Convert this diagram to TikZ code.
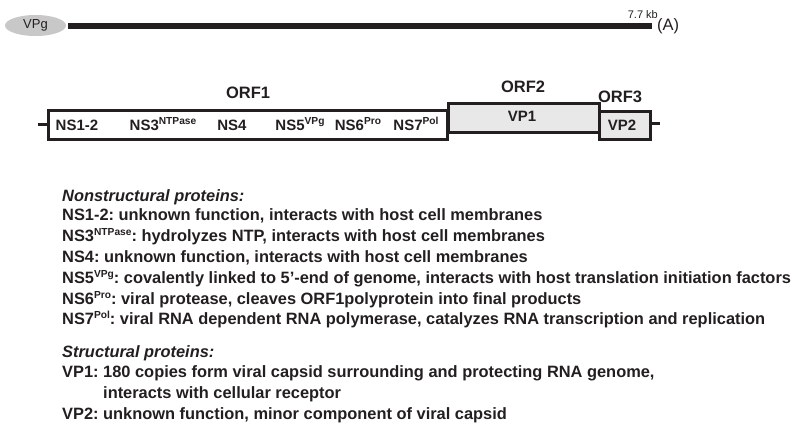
\documentclass[tikz,border=0pt]{standalone}
\usepackage{fontspec}
\setmainfont{Liberation Sans}
\usepackage{xcolor}
\usetikzlibrary{positioning,shapes.geometric}

\definecolor{ink}{HTML}{231F20}
\definecolor{capgray}{HTML}{C8C8C8}
\definecolor{boxgray}{HTML}{E8E8E8}

% small raised tag after a protein name
\newcommand{\psup}[1]{\raisebox{0.36em}{\fontsize{10.2}{12}\selectfont #1}}
\frenchspacing

\tikzset{
  orfbox/.style={draw=ink, line width=3pt, inner sep=0pt, anchor=north west},
  orflabel/.style={font=\fontsize{16.5}{19}\selectfont\bfseries, text=ink, inner sep=0pt},
  protlabel/.style={font=\fontsize{15}{18}\selectfont\bfseries, text=ink, inner sep=0pt},
  descline/.style={font=\fontsize{16.4}{20}\selectfont\bfseries, text=ink, inner sep=0pt, anchor=base west},
}

\begin{document}
\begin{tikzpicture}[x=1pt,y=-1pt]
\useasboundingbox (0,0) rectangle (800,429);

% genome with VPg and poly(A)
\node [ellipse, fill=capgray, minimum width=61pt, minimum height=21pt, inner sep=0pt, font=\fontsize{13}{15}\selectfont, text=ink] (vpg) at (35.5,25.5) {VPg};
\coordinate (g3) at (652,25.5);
\draw [ink, line width=6pt] ([xshift=2pt]vpg.east) -- (g3);
\node [anchor=west, inner sep=0pt, font=\fontsize{16.5}{18}\selectfont, text=ink] (polya) at (657,26) {(A)};
\node [anchor=base east, inner sep=0pt, font=\fontsize{11}{13}\selectfont, text=ink] (size) at (658,18) {7.7 kb};

% ORFs
\node [orfbox, minimum width=399pt, minimum height=29pt] (orf1) at (46.5,108.5) {};
\node [orfbox, fill=boxgray, minimum width=151.5pt, minimum height=29pt] (orf2) at (446.5,101.5) {};
\node [orfbox, fill=boxgray, minimum width=51pt, minimum height=28pt] (orf3) at (597.5,109.5) {};
\coordinate [left=9pt of orf1.west] (stub5);
\coordinate (stub3) at (660,123);
\draw [ink, line width=3pt] (stub5) -- (orf1.west);
\draw [ink, line width=3pt] (orf3.east |- stub3) -- (stub3);

\node [orflabel] (orf1name) at (248,93) {ORF1};
\node [orflabel] (orf2name) at (523,87) {ORF2};
\node [orflabel] (orf3name) at (620,97) {ORF3};

% proteins
\node [protlabel] (ns12) at (77,125) {NS1-2};
\node [protlabel] (ns3) at (163,124) {NS3\psup{NTPase}};
\node [protlabel] (ns4) at (232,125) {NS4};
\node [protlabel] (ns5) at (300,124) {NS5\psup{VPg}};
\node [protlabel] (ns6) at (358,124) {NS6\psup{Pro}};
\node [protlabel] (ns7) at (416,124) {NS7\psup{Pol}};
\node [protlabel] (vp1) at (522,116) {VP1};
\node [protlabel] (vp2) at (622,125) {VP2};

% legend
\node [descline] (nshead) at (62,201) {\itshape Nonstructural proteins:};
\node [descline] (d1) at (62,220) {NS1-2: unknown function, interacts with host cell membranes};
\node [descline] (d2) at (62,241) {NS3\psup{NTPase}: hydrolyzes NTP, interacts with host cell membranes};
\node [descline] (d3) at (62,262) {NS4: unknown function, interacts with host cell membranes};
\node [descline] (d4) at (62,283) {NS5\psup{VPg}: covalently linked to 5'-end of genome, interacts with host translation initiation factors};
\node [descline] (d5) at (62,304) {NS6\psup{Pro}: viral protease, cleaves ORF1polyprotein into final products};
\node [descline] (d6) at (62,324) {NS7\psup{Pol}: viral RNA dependent RNA polymerase, catalyzes RNA transcription and replication};
\node [descline] (shead) at (62,357) {\itshape Structural proteins:};
\node [descline] (d7) at (62,377) {VP1: 180 copies form viral capsid surrounding and protecting RNA genome,};
\node [descline] (d7b) at (103,398) {interacts with cellular receptor};
\node [descline] (d8) at (62,419) {VP2: unknown function, minor component of viral capsid};
\end{tikzpicture}
\end{document}
